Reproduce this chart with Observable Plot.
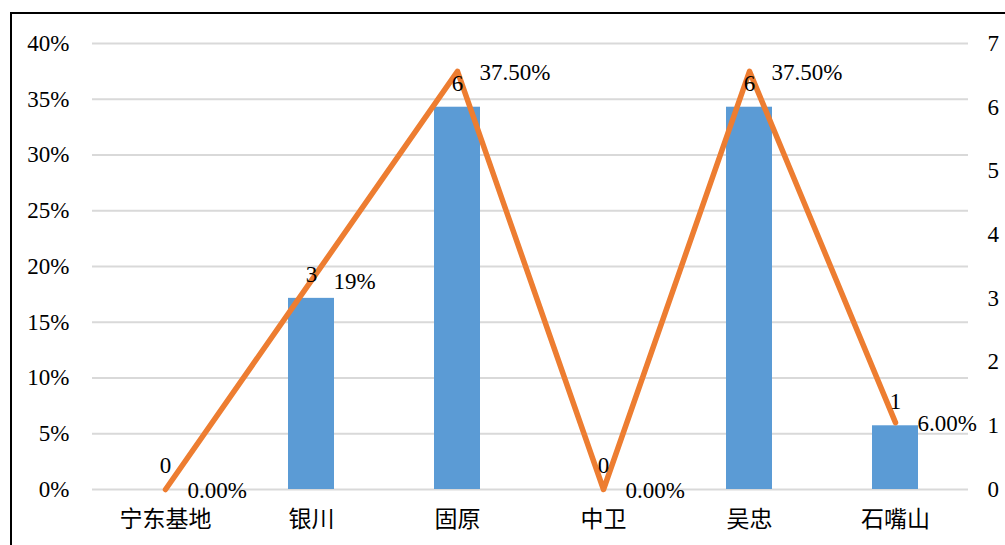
<!DOCTYPE html>
<html>
<head>
<meta charset="utf-8">
<script src="https://cdn.jsdelivr.net/npm/d3@7"></script>
<script src="https://cdn.jsdelivr.net/npm/@observablehq/plot@0.6"></script>
<style>
  html, body { margin: 0; padding: 0; background: #fff; }
  #wrap { position: relative; width: 1005px; height: 545px; overflow: hidden; }
  #frame { position: absolute; left: 10px; top: 12px; width: 1100px; height: 700px; border: 2px solid #000; box-sizing: border-box; pointer-events: none; }
  #chart { position: absolute; left: 0; top: 0; }
  #chart svg, #chart svg text { font-family: "Liberation Serif", "Times New Roman", "Noto Sans CJK SC", serif !important; }
</style>
</head>
<body>
<div id="wrap"><div id="chart"></div><div id="frame"></div></div>
<script>
const categories = ["宁东基地", "银川", "固原", "中卫", "吴忠", "石嘴山"];
const counts = [0, 3, 6, 0, 6, 1];
const shares = [0, 0.1875, 0.375, 0, 0.375, 0.06];
const shareLabels = ["0.00%", "19%", "37.50%", "0.00%", "37.50%", "6.00%"];
const leftTicks = [0, 0.05, 0.10, 0.15, 0.20, 0.25, 0.30, 0.35, 0.40];
const leftTickLabels = ["0%", "5%", "10%", "15%", "20%", "25%", "30%", "35%", "40%"];
const rightTicks = [0, 1, 2, 3, 4, 5, 6, 7];
const rightMax = 7;
const leftMax = 0.4;

const data = categories.map((c, i) => ({
  cat: c, count: counts[i], share: shares[i], shareLabel: shareLabels[i]
}));
const countToY = v => v * leftMax / rightMax;

const chart = Plot.plot({
  width: 1005,
  height: 545,
  marginLeft: 92,
  marginRight: 37,
  marginTop: 43,
  marginBottom: 56,
  style: { fontSize: "23px", color: "#000", background: "transparent" },
  x: { domain: categories, paddingInner: 0.685, paddingOuter: 0.3425, label: null },
  y: { domain: [0, leftMax], label: null },
  marks: [
    Plot.gridY(leftTicks, { stroke: "#d9d9d9", strokeOpacity: 1, strokeWidth: 2 }),
    Plot.barY(data, { x: "cat", y: d => countToY(d.count), fill: "#5B9BD5" }),
    Plot.lineY(data, { x: "cat", y: "share", stroke: "#ED7D31", strokeWidth: 5.5, strokeLinejoin: "round", strokeLinecap: "round" }),
    Plot.axisY({ anchor: "left", ticks: leftTicks, tickSize: 0, tickPadding: 23, tickFormat: (v, i) => leftTickLabels[leftTicks.indexOf(v)], label: null }),
    Plot.axisY({ anchor: "right", ticks: rightTicks.map(countToY), tickSize: 0, tickPadding: 19, tickFormat: v => String(Math.round(v * rightMax / leftMax)), label: null }),
    Plot.axisX({ tickSize: 0, tickPadding: 21, label: null, fontSize: "23px" }),
    Plot.text(data, { x: "cat", y: d => countToY(d.count), text: d => String(d.count), dy: -24, fill: "#000" }),
    Plot.text(data, { x: "cat", y: "share", text: "shareLabel", textAnchor: "start", dx: 22, dy: 1, fill: "#000" })
  ]
});
document.getElementById("chart").appendChild(chart);
</script>
</body>
</html>
